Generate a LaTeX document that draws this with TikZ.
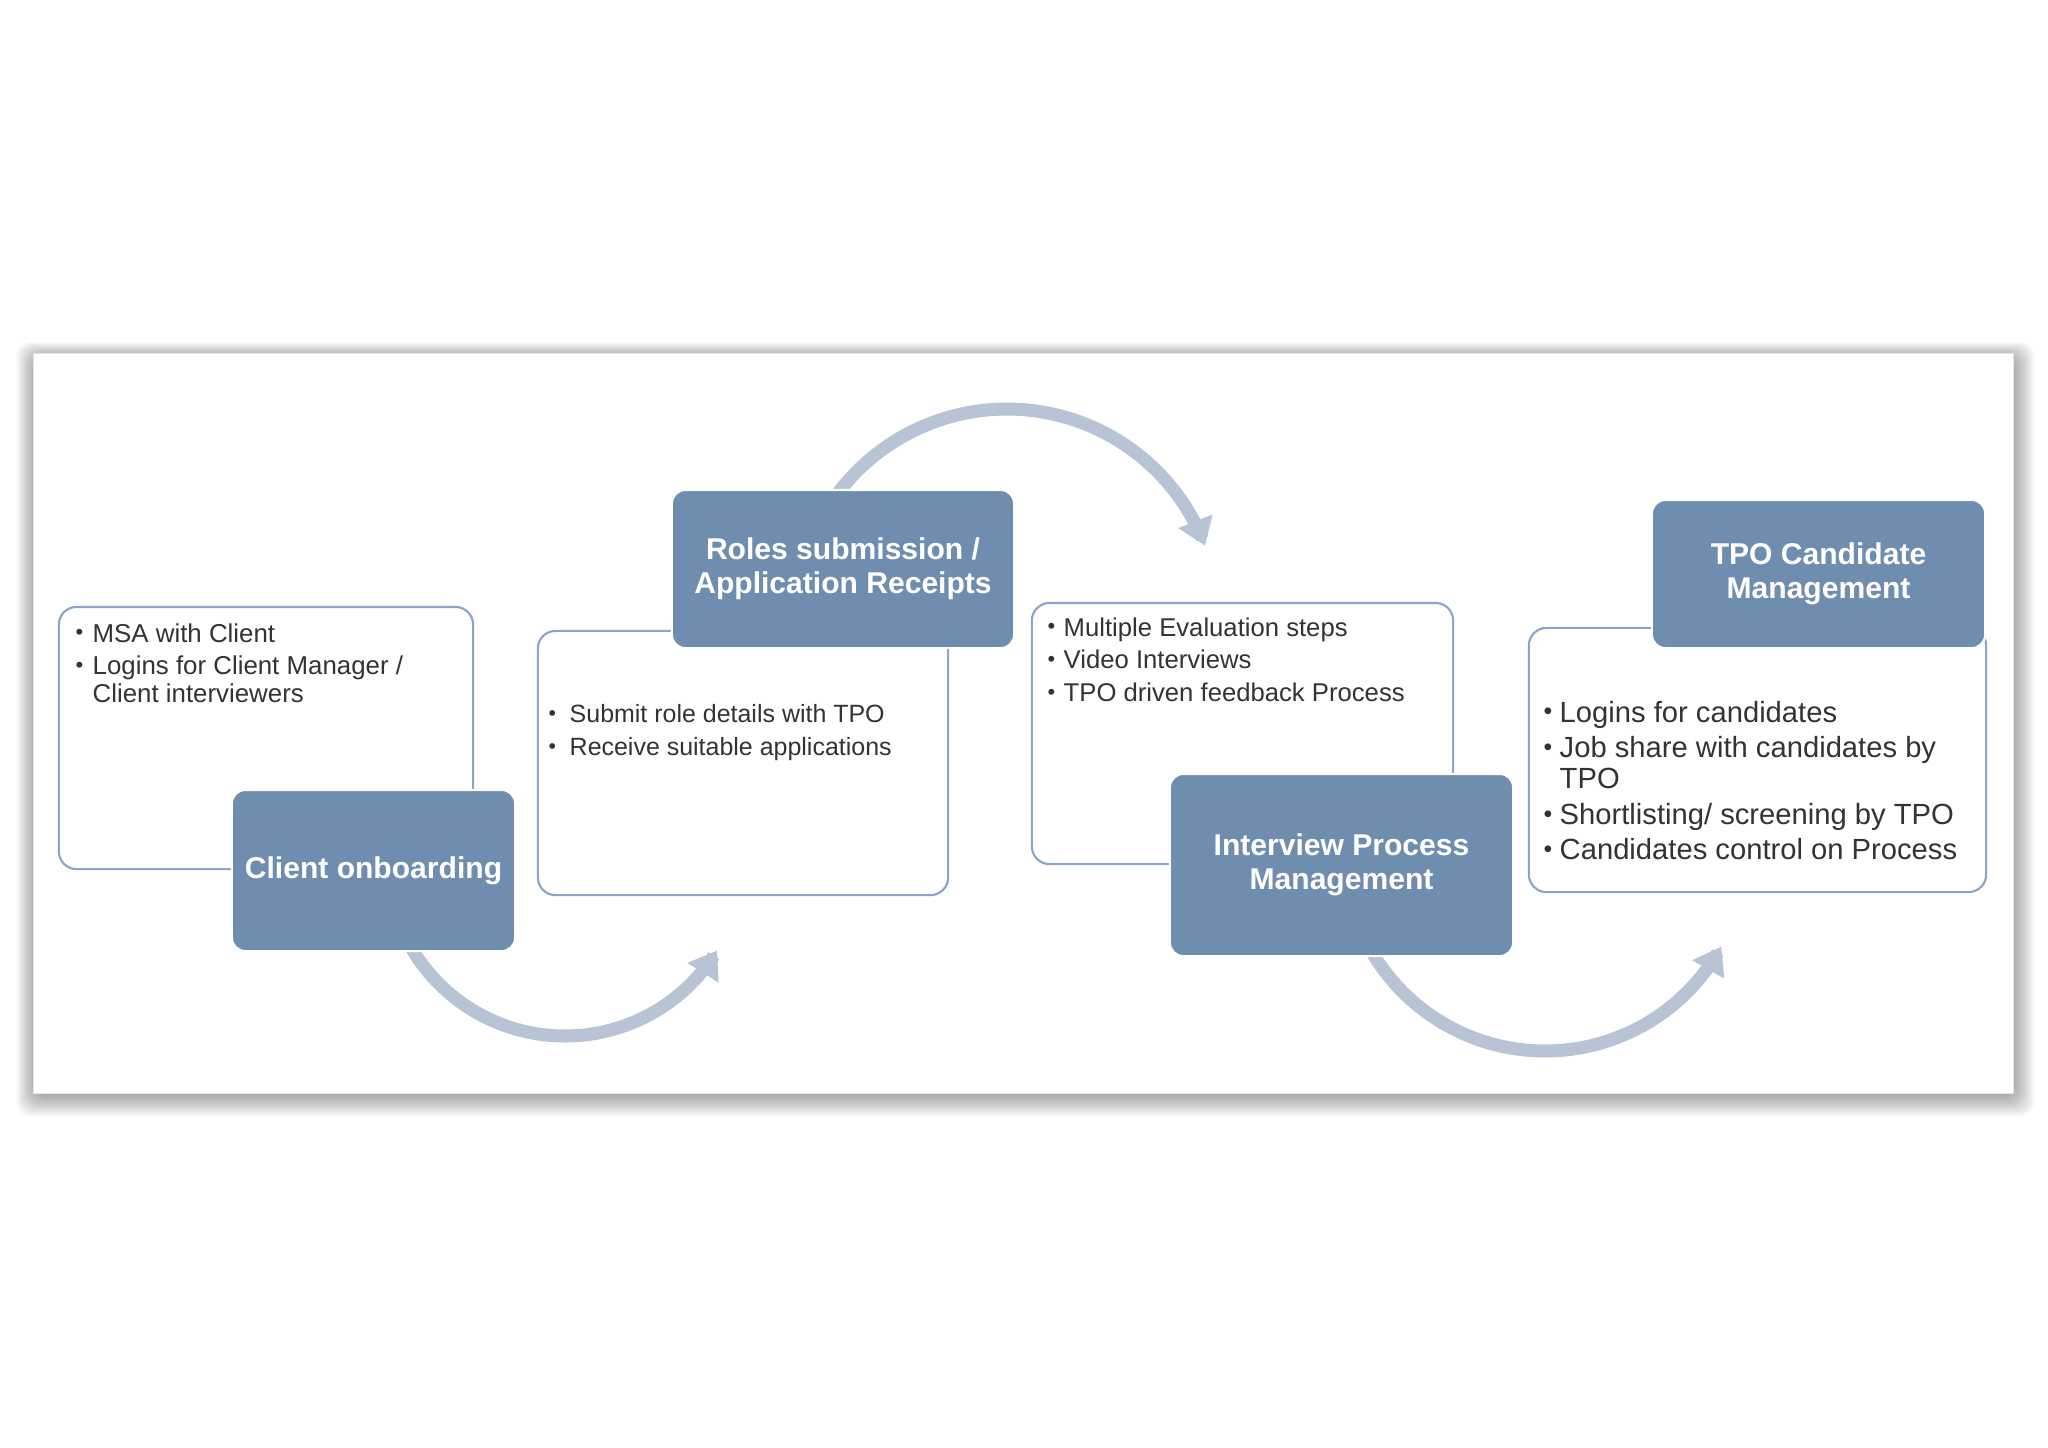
\documentclass[tikz,border=0pt]{standalone}
\usepackage{fontspec}
\usepackage{graphicx}
\setmainfont{Liberation Sans}
\usetikzlibrary{arrows.meta}
\definecolor{boxblue}{HTML}{6F8EAF}
\definecolor{edgeblue}{HTML}{8BA3C7}
\definecolor{arcblue}{HTML}{B8C3D5}
\definecolor{bodytext}{HTML}{333333}
\newcommand\mybul{\raisebox{0.08em}{\scalebox{0.85}{•}}}
\tikzset{
  panel/.style={fill=white, draw=black!10, line width=0.3pt},
  shadowlayer/.style={fill=black, fill opacity=0.018, draw=none, rounded corners=4pt},
  textbox/.style={draw=edgeblue, line width=0.6pt, fill=white, rounded corners=5pt, inner sep=0pt},
  titlebox/.style={fill=boxblue, draw=white, line width=0.6pt, rounded corners=3.8pt, inner sep=0pt,
    text=white, align=center, font=\fontsize{8.55}{9.7}\selectfont\bfseries},
  bodytxt/.style={anchor=base west, inner sep=0pt, text=bodytext},
  flowarc/.style={draw=arcblue, line width=3.7pt, -{Triangle[width=10pt,length=7.5pt]}},
}
\begin{document}
\begin{tikzpicture}[x=0.01cm, y=-0.01cm]
\useasboundingbox (0,0) rectangle (2048,1447);
\fill[white] (0,0) rectangle (2048,1447);
% soft shadow of the panel
\foreach \i in {1,...,18}{
  \fill[shadowlayer] ({36-1.1*\i},{358-0.9*\i}) rectangle ({2013+1.2*\i},{1095+1.2*\i});
}
% panel
\node[panel, minimum width=19.79cm, minimum height=7.39cm] (panel) at (1023.5,723.5) {};
% text boxes
\node[textbox, minimum width=4.14cm, minimum height=2.62cm] (tb1) at (266,738) {};
\node[textbox, minimum width=4.10cm, minimum height=2.64cm] (tb2) at (743,763) {};
\node[textbox, minimum width=4.21cm, minimum height=2.61cm] (tb3) at (1242.5,733.5) {};
\node[textbox, minimum width=4.57cm, minimum height=2.64cm] (tb4) at (1757.5,760) {};
% curved arrows
\draw[flowarc] plot[domain=150:31.3, samples=60] ({565+178*cos(\x)},{858+178*sin(\x)});
\draw[flowarc] plot[domain=216:339.2, samples=60] ({1007+212*cos(\x)},{621+212*sin(\x)});
\draw[flowarc] plot[domain=150:28.7, samples=60] ({1545+201*cos(\x)},{850+201*sin(\x)});
% title boxes
\node[titlebox, minimum width=2.83cm, minimum height=1.61cm] (t1) at (373.5,870.5) {Client onboarding};
\node[titlebox, minimum width=3.42cm, minimum height=1.58cm] (t2) at (843,569) {Roles submission /\\Application Receipts};
\node[titlebox, minimum width=3.43cm, minimum height=1.82cm] (t3) at (1341.5,865) {Interview Process\\Management};
\node[titlebox, minimum width=3.33cm, minimum height=1.48cm] (t4) at (1818.5,574) {TPO Candidate\\Management};
% body texts
\node[bodytxt, font=\fontsize{7.35}{7.97}\selectfont] (x1) at (75,642)
  {\begin{tabular}[t]{@{}p{0.17cm}@{}l@{}}\mybul&MSA with Client\\[1.3pt]\mybul&Logins for Client Manager /\\&Client interviewers\end{tabular}};
\node[bodytxt, font=\fontsize{7.1}{7.97}\selectfont] (x2) at (548,722)
  {\begin{tabular}[t]{@{}p{0.21cm}@{}l@{}}\mybul&Submit role details with TPO\\[1.5pt]\mybul&Receive suitable applications\end{tabular}};
\node[bodytxt, font=\fontsize{7.3}{7.97}\selectfont] (x3) at (1047,636)
  {\begin{tabular}[t]{@{}p{0.16cm}@{}l@{}}\mybul&Multiple Evaluation steps\\[1.3pt]\mybul&Video Interviews\\[1.3pt]\mybul&TPO driven feedback Process\end{tabular}};
\node[bodytxt, font=\fontsize{8.3}{8.9}\selectfont] (x4) at (1543,722)
  {\begin{tabular}[t]{@{}p{0.16cm}@{}l@{}}\mybul&Logins for candidates\\[1.2pt]\mybul&Job share with candidates by\\&TPO\\[1.2pt]\mybul&Shortlisting/ screening by TPO\\[1.2pt]\mybul&Candidates control on Process\end{tabular}};
\end{tikzpicture}
\end{document}
